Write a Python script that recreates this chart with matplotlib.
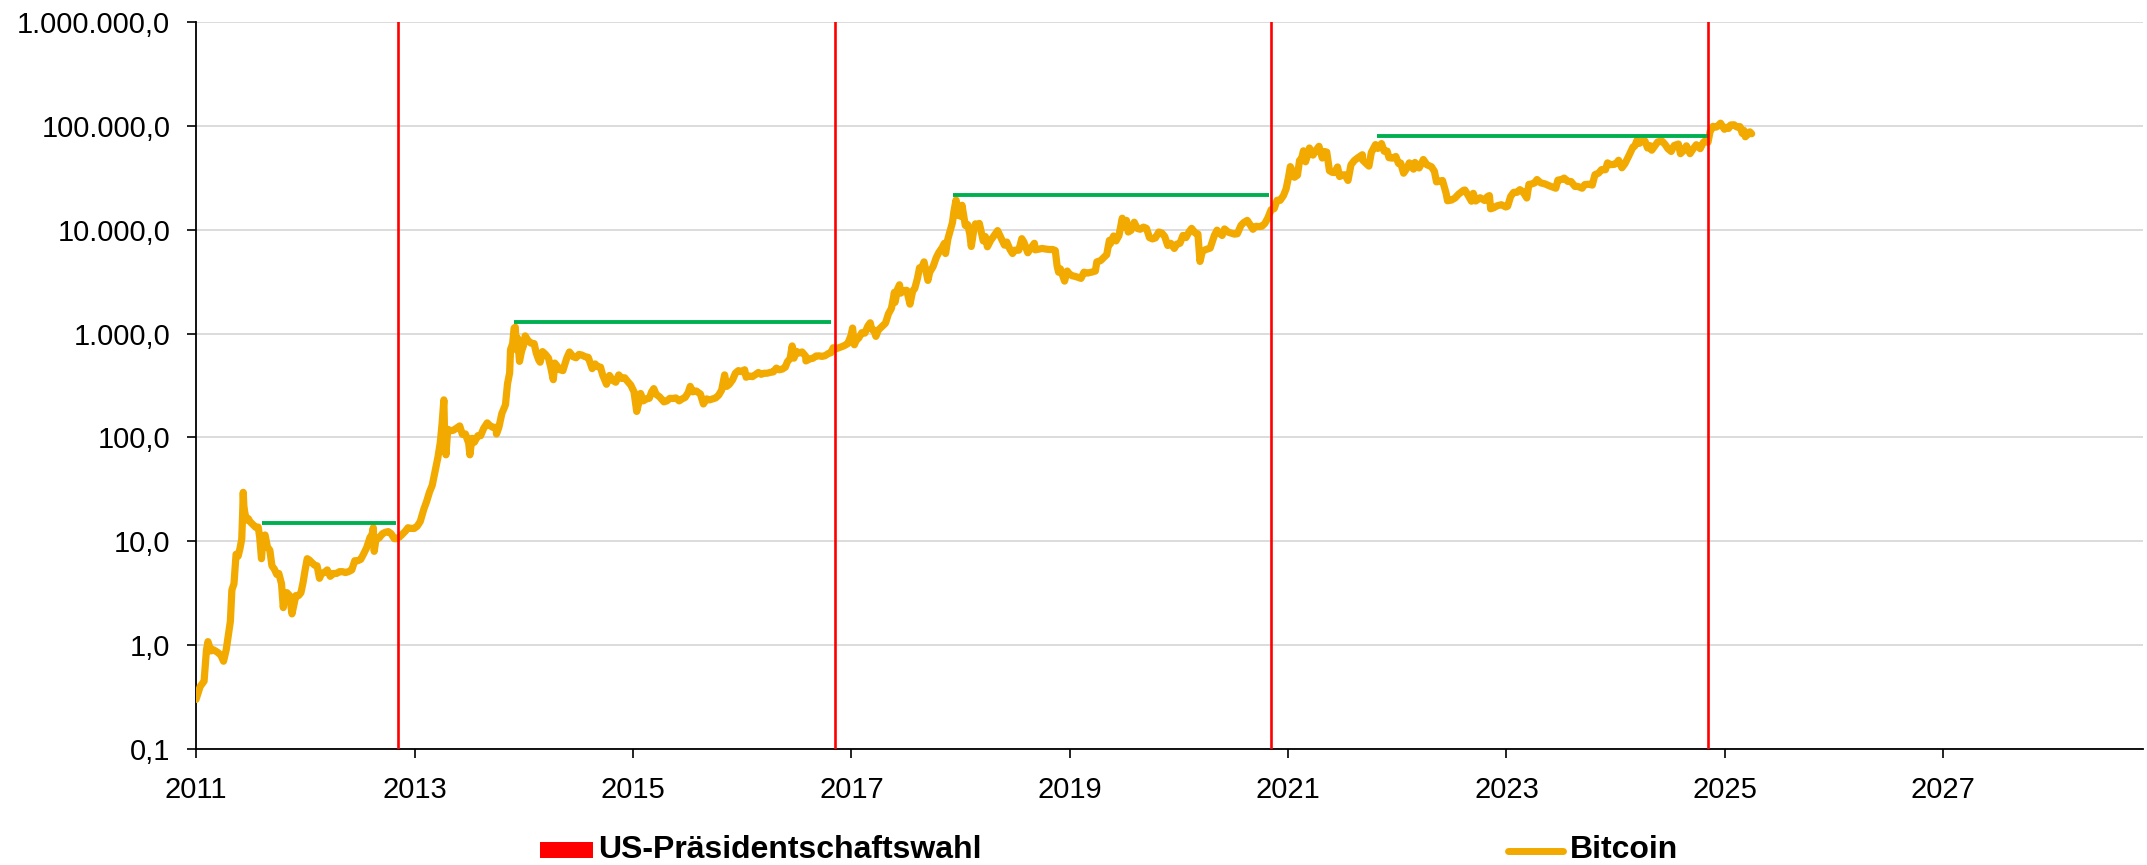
import matplotlib
matplotlib.use("Agg")
import matplotlib.pyplot as plt
import pandas as pd
from matplotlib.ticker import FuncFormatter, FixedLocator, NullLocator
from matplotlib.patches import Rectangle
from matplotlib.lines import Line2D

plt.rcParams["font.family"] = ["Liberation Sans", "DejaVu Sans"]

# Bitcoin in USD, (Monat-Tag, Kurs) je Jahr
btc_2011 = [("01-01", 0.30), ("01-15", 0.40), ("01-28", 0.45), ("02-05", 0.90), ("02-10", 1.08), ("02-20", 0.88),
            ("03-01", 0.90), ("03-15", 0.85), ("03-25", 0.80), ("04-03", 0.70), ("04-12", 0.90), ("04-20", 1.30),
            ("04-26", 1.70), ("05-01", 3.4), ("05-08", 3.9), ("05-15", 7.5), ("05-22", 7.2), ("05-28", 8.5),
            ("06-03", 10.5), ("06-06", 18.5), ("06-08", 29.6), ("06-10", 22.0), ("06-13", 19.0), ("06-19", 16.0),
            ("06-25", 16.5), ("07-01", 15.4), ("07-10", 14.5), ("07-20", 13.6), ("07-28", 13.7), ("08-02", 11.0),
            ("08-08", 6.8), ("08-12", 10.0), ("08-20", 11.5), ("08-28", 8.8), ("09-05", 8.2), ("09-12", 5.8),
            ("09-20", 5.4), ("09-28", 4.8), ("10-05", 4.9), ("10-14", 3.9), ("10-20", 2.3), ("10-25", 3.2),
            ("11-01", 3.2), ("11-10", 3.0), ("11-18", 2.0), ("11-25", 2.5), ("12-01", 3.0), ("12-10", 3.0),
            ("12-18", 3.2), ("12-25", 4.0)]
btc_2012 = [("01-01", 5.3), ("01-08", 6.8), ("01-15", 6.6), ("01-22", 6.3), ("02-01", 5.9), ("02-10", 5.8),
            ("02-18", 4.4), ("02-25", 4.9), ("03-05", 5.0), ("03-15", 5.3), ("03-25", 4.6), ("04-05", 4.9),
            ("04-15", 4.9), ("04-25", 5.1), ("05-05", 5.1), ("05-15", 5.0), ("05-25", 5.1), ("06-05", 5.3),
            ("06-15", 6.5), ("06-25", 6.5), ("07-05", 6.7), ("07-15", 7.6), ("07-25", 8.7), ("08-05", 10.9),
            ("08-12", 11.6), ("08-16", 13.5), ("08-19", 8.0), ("08-25", 10.5), ("09-05", 10.8), ("09-15", 11.8),
            ("09-25", 12.2), ("10-05", 12.4), ("10-15", 11.8), ("10-25", 10.6), ("11-01", 10.6), ("11-10", 10.9),
            ("11-20", 11.6), ("12-01", 12.5), ("12-10", 13.5), ("12-20", 13.3), ("12-31", 13.3)]
btc_2013 = [("01-10", 14.0), ("01-20", 15.5), ("02-01", 20.4), ("02-10", 24.0), ("02-20", 29.8), ("03-01", 34.5),
            ("03-10", 46.0), ("03-20", 64.0), ("03-28", 89.0), ("04-03", 135), ("04-09", 230), ("04-12", 90),
            ("04-16", 68), ("04-22", 120), ("05-01", 116), ("05-10", 117), ("05-20", 122), ("06-01", 129),
            ("06-10", 107), ("06-20", 108), ("07-01", 88), ("07-05", 68), ("07-12", 98), ("07-20", 90),
            ("08-01", 104), ("08-10", 104), ("08-20", 122), ("09-01", 138), ("09-10", 130), ("09-20", 125),
            ("10-01", 125), ("10-02", 108), ("10-10", 125), ("10-20", 170), ("11-01", 206), ("11-08", 330),
            ("11-15", 418), ("11-18", 700), ("11-25", 800), ("11-30", 1130), ("12-04", 1150), ("12-07", 700),
            ("12-12", 900), ("12-18", 540), ("12-25", 680), ("12-31", 760)]
btc_2014 = [("01-06", 950), ("01-15", 860), ("01-25", 810), ("02-05", 800), ("02-12", 650), ("02-20", 560),
            ("02-25", 530), ("03-05", 670), ("03-15", 630), ("03-25", 580), ("04-01", 480), ("04-10", 360),
            ("04-15", 520), ("04-22", 490), ("05-01", 450), ("05-12", 440), ("05-25", 580), ("06-03", 665),
            ("06-15", 600), ("06-25", 585), ("07-05", 630), ("07-15", 620), ("07-25", 600), ("08-05", 590),
            ("08-18", 460), ("08-28", 510), ("09-05", 480), ("09-15", 475), ("09-22", 400), ("10-05", 325),
            ("10-15", 395), ("10-25", 355), ("11-05", 340), ("11-15", 400), ("11-25", 370), ("12-05", 375),
            ("12-15", 345), ("12-25", 320)]
btc_2015 = [("01-05", 275), ("01-14", 178), ("01-20", 210), ("01-27", 265), ("02-05", 225), ("02-15", 235),
            ("02-25", 238), ("03-05", 275), ("03-12", 295), ("03-20", 260), ("04-01", 245), ("04-15", 220),
            ("04-25", 225), ("05-05", 238), ("05-15", 237), ("05-25", 240), ("06-05", 225), ("06-15", 235),
            ("06-25", 243), ("07-05", 270), ("07-12", 310), ("07-20", 275), ("08-01", 280), ("08-15", 262),
            ("08-25", 210), ("09-05", 235), ("09-15", 230), ("09-25", 235), ("10-05", 240), ("10-15", 255),
            ("10-25", 285), ("11-04", 400), ("11-11", 310), ("11-20", 325), ("12-01", 360), ("12-10", 415),
            ("12-20", 440), ("12-31", 430)]
btc_2016 = [("01-10", 448), ("01-15", 380), ("01-25", 390), ("02-05", 385), ("02-15", 402), ("02-25", 422),
            ("03-05", 405), ("03-15", 415), ("03-25", 415), ("04-05", 423), ("04-15", 428), ("04-25", 465),
            ("05-05", 448), ("05-15", 455), ("05-25", 475), ("06-01", 535), ("06-10", 575), ("06-17", 760),
            ("06-23", 580), ("07-01", 675), ("07-10", 650), ("07-20", 665), ("08-01", 606), ("08-02", 545),
            ("08-15", 570), ("08-25", 578), ("09-05", 608), ("09-15", 610), ("09-25", 603), ("10-05", 612),
            ("10-15", 640), ("10-25", 655), ("11-01", 730), ("11-10", 712), ("11-20", 730), ("12-01", 750),
            ("12-10", 770), ("12-20", 800), ("12-31", 963)]
btc_2017 = [("01-05", 1130), ("01-11", 780), ("01-18", 870), ("01-25", 900), ("02-05", 1020), ("02-15", 1010),
            ("02-25", 1180), ("03-05", 1270), ("03-10", 1100), ("03-17", 1080), ("03-24", 940), ("04-01", 1080),
            ("04-15", 1180), ("04-25", 1260), ("05-05", 1550), ("05-15", 1750), ("05-25", 2500), ("05-27", 2000),
            ("06-05", 2700), ("06-11", 2950), ("06-15", 2450), ("06-25", 2590), ("07-05", 2610), ("07-16", 1920),
            ("07-25", 2570), ("08-01", 2720), ("08-10", 3400), ("08-17", 4300), ("08-25", 4350), ("09-01", 4900),
            ("09-14", 3250), ("09-20", 3900), ("10-01", 4400), ("10-12", 5400), ("10-20", 6000), ("11-01", 6750),
            ("11-08", 7400), ("11-12", 5900), ("11-20", 8200), ("11-28", 9900), ("12-05", 11700), ("12-10", 15000),
            ("12-17", 19300), ("12-22", 13800), ("12-28", 14500)]
btc_2018 = [("01-01", 13500), ("01-06", 17200), ("01-12", 13500), ("01-17", 11000), ("01-25", 11200),
            ("02-01", 9100), ("02-06", 6900), ("02-15", 10200), ("02-20", 11400), ("03-01", 10900),
            ("03-05", 11500), ("03-18", 7800), ("03-25", 8600), ("04-01", 6850), ("04-12", 7900), ("04-25", 8900),
            ("05-05", 9800), ("05-15", 8500), ("05-28", 7100), ("06-05", 7600), ("06-15", 6500), ("06-24", 5900),
            ("07-01", 6350), ("07-15", 6350), ("07-25", 8200), ("08-01", 7600), ("08-14", 6000), ("08-25", 6700),
            ("09-05", 7400), ("09-08", 6400), ("09-20", 6500), ("10-01", 6600), ("10-15", 6500), ("10-25", 6450),
            ("11-05", 6450), ("11-14", 6300), ("11-20", 4500), ("11-25", 3900), ("12-01", 4200), ("12-15", 3200),
            ("12-24", 4000), ("12-31", 3750)]
btc_2019 = [("01-10", 3600), ("01-20", 3550), ("02-01", 3450), ("02-08", 3400), ("02-18", 3900), ("03-01", 3820),
            ("03-15", 3900), ("03-28", 4000), ("04-02", 4900), ("04-15", 5050), ("04-25", 5400), ("05-05", 5750),
            ("05-14", 7900), ("05-17", 7300), ("05-28", 8700), ("06-05", 7800), ("06-15", 8800), ("06-26", 12900),
            ("07-02", 10600), ("07-10", 12300), ("07-16", 9500), ("07-25", 9850), ("08-05", 11800), ("08-15", 10300),
            ("08-25", 10100), ("09-05", 10600), ("09-15", 10300), ("09-25", 8400), ("10-05", 8150), ("10-15", 8350),
            ("10-26", 9500), ("11-05", 9300), ("11-15", 8600), ("11-25", 7050), ("12-05", 7400), ("12-17", 6600),
            ("12-25", 7250)]
btc_2020 = [("01-05", 7400), ("01-15", 8800), ("01-25", 8400), ("02-05", 9600), ("02-13", 10300), ("02-25", 9300),
            ("03-05", 9100), ("03-12", 4950), ("03-20", 6200), ("04-01", 6450), ("04-15", 6650), ("04-29", 8800),
            ("05-08", 9900), ("05-15", 9300), ("05-25", 8800), ("06-02", 10170), ("06-15", 9450), ("06-25", 9250),
            ("07-05", 9070), ("07-15", 9150), ("07-27", 11000), ("08-05", 11700), ("08-17", 12300), ("08-25", 11350),
            ("09-05", 10100), ("09-15", 10790), ("09-25", 10730), ("10-05", 10800), ("10-15", 11500), ("10-25", 13000),
            ("11-05", 15600), ("11-15", 15950), ("11-25", 19200), ("12-05", 19150), ("12-16", 21300), ("12-25", 24700)]
btc_2021 = [("01-02", 32000), ("01-08", 40500), ("01-15", 36700), ("01-22", 32000), ("02-01", 33500),
            ("02-08", 46400), ("02-15", 48700), ("02-21", 57500), ("02-28", 45100), ("03-10", 55900),
            ("03-13", 61200), ("03-25", 52300), ("04-05", 58700), ("04-14", 63500), ("04-25", 49000),
            ("05-03", 56600), ("05-10", 55800), ("05-19", 37000), ("05-28", 35700), ("06-05", 35500),
            ("06-15", 40200), ("06-22", 32500), ("07-01", 33600), ("07-10", 33800), ("07-20", 29800),
            ("07-30", 42200), ("08-10", 46300), ("08-22", 49300), ("09-06", 52700), ("09-07", 46800),
            ("09-20", 43000), ("09-28", 41000), ("10-06", 55300), ("10-20", 66000), ("10-28", 60600),
            ("11-09", 67500), ("11-18", 56900), ("11-28", 57200), ("12-04", 49400), ("12-15", 48900), ("12-27", 50700)]
btc_2022 = [("01-05", 43400), ("01-12", 43900), ("01-22", 35000), ("02-01", 38700), ("02-10", 44000),
            ("02-24", 38300), ("03-01", 44400), ("03-15", 39300), ("03-29", 47400), ("04-10", 42200),
            ("04-25", 40400), ("05-05", 36500), ("05-12", 28900), ("05-20", 29200), ("06-01", 29800),
            ("06-13", 22500), ("06-18", 19000), ("07-01", 19300), ("07-13", 20200), ("07-25", 22000),
            ("08-10", 23900), ("08-15", 24100), ("08-25", 21600), ("09-06", 18800), ("09-12", 22400),
            ("09-20", 18900), ("10-05", 20300), ("10-20", 19100), ("10-29", 20800), ("11-05", 21300),
            ("11-09", 15900), ("11-20", 16300), ("12-01", 17000), ("12-15", 17400), ("12-30", 16550)]
btc_2023 = [("01-05", 16850), ("01-15", 20900), ("01-25", 22900), ("02-05", 22900), ("02-15", 24300),
            ("02-25", 23200), ("03-10", 20200), ("03-17", 27300), ("03-25", 27500), ("04-05", 28200),
            ("04-13", 30400), ("04-25", 28300), ("05-10", 27600), ("05-25", 26400), ("06-05", 25700),
            ("06-15", 25100), ("06-22", 30000), ("07-05", 30500), ("07-13", 31400), ("07-25", 29200),
            ("08-05", 29100), ("08-18", 26100), ("08-28", 26100), ("09-11", 25100), ("09-20", 27200),
            ("10-05", 27400), ("10-15", 26900), ("10-24", 33900), ("11-05", 35000), ("11-15", 37900),
            ("11-28", 37800), ("12-05", 44000), ("12-15", 42300), ("12-28", 42600)]
btc_2024 = [("01-05", 44200), ("01-11", 46600), ("01-22", 39500), ("02-01", 43100), ("02-15", 52000),
            ("02-28", 62500), ("03-05", 63800), ("03-13", 73100), ("03-20", 67800), ("03-28", 70700),
            ("04-08", 71600), ("04-17", 61200), ("04-25", 64500), ("05-01", 58300), ("05-15", 66200),
            ("05-21", 70100), ("06-05", 71100), ("06-15", 66000), ("06-24", 60300), ("07-05", 56700),
            ("07-15", 64700), ("07-29", 66800), ("08-05", 54000), ("08-15", 57600), ("08-25", 64200),
            ("09-06", 54000), ("09-15", 59200), ("09-27", 65800), ("10-10", 60300), ("10-20", 69000),
            ("10-29", 72700), ("11-05", 69400), ("11-12", 88000), ("11-22", 98900), ("12-01", 97200),
            ("12-05", 98000), ("12-17", 106100), ("12-30", 92700)]
btc_2025 = [("01-07", 96900), ("01-13", 94500), ("01-20", 102000), ("01-31", 102400), ("02-10", 97400),
            ("02-20", 98300), ("02-28", 84400), ("03-05", 90600), ("03-10", 78500), ("03-18", 82700),
            ("03-25", 87500), ("03-31", 84000)]

btc_years = {2011: btc_2011, 2012: btc_2012, 2013: btc_2013, 2014: btc_2014, 2015: btc_2015,
             2016: btc_2016, 2017: btc_2017, 2018: btc_2018, 2019: btc_2019, 2020: btc_2020,
             2021: btc_2021, 2022: btc_2022, 2023: btc_2023, 2024: btc_2024, 2025: btc_2025}

# US-Praesidentschaftswahlen
wahl_dates = ["2012-11-06", "2016-11-08", "2020-11-03", "2024-11-05"]

# Allzeithochs bis zur naechsten Wahl (gruene Linien)
ath_start = ["2011-08-10", "2013-11-29", "2017-12-06", "2021-10-25"]
ath_end = ["2012-11-01", "2016-10-26", "2020-10-30", "2024-11-05"]
ath_level = [15, 1300, 21400, 79000]

year_ticks = [2011, 2013, 2015, 2017, 2019, 2021, 2023, 2025, 2027]

dates = []
prices = []
for y, rows in btc_years.items():
    for md, p in rows:
        dates.append(pd.Timestamp(f"{y}-{md}"))
        prices.append(p)

W, H = 2147, 865
fig = plt.figure(figsize=(W / 100, H / 100), dpi=100)
ax = fig.add_axes([196 / W, 1 - 749 / H, (2143 - 196) / W, (749 - 22) / H])

ax.plot(dates, prices, color="#F2A900", lw=5.2, solid_joinstyle="round", solid_capstyle="round", zorder=3)
for s, e, lvl in zip(ath_start, ath_end, ath_level):
    ax.hlines(lvl, pd.Timestamp(s), pd.Timestamp(e), color="#00B050", lw=2.8, zorder=4)
for d in wahl_dates:
    ax.axvline(pd.Timestamp(d), color="#FF0000", lw=1.9, zorder=5)

ax.set_yscale("log")
ax.set_ylim(0.1, 1e6)
ax.set_xlim(pd.Timestamp("2011-01-01"), pd.Timestamp("2028-10-30"))

ax.yaxis.set_major_locator(FixedLocator([10.0 ** k for k in range(-1, 7)]))
ax.yaxis.set_minor_locator(NullLocator())
ax.yaxis.set_major_formatter(FuncFormatter(
    lambda v, pos: f"{v:,.1f}".replace(",", "X").replace(".", ",").replace("X", ".")))

xt = [pd.Timestamp(f"{y}-01-01") for y in year_ticks]
ax.set_xticks(xt)
ax.set_xticklabels([str(y) for y in year_ticks])
ax.xaxis.set_minor_locator(NullLocator())

ax.yaxis.grid(True, color="#D9D9D9", lw=1.3, zorder=0)
ax.set_axisbelow(True)
for side in ["top", "right"]:
    ax.spines[side].set_visible(False)
for side in ["left", "bottom"]:
    ax.spines[side].set_linewidth(1.3)
    ax.spines[side].set_color("black")
ax.tick_params(axis="both", direction="out", length=6.5, width=1.2, labelsize=21, colors="black")
ax.tick_params(axis="y", pad=12)
ax.tick_params(axis="x", pad=13)

# Legende unten
fig.add_artist(Rectangle((540 / W, 1 - 858 / H), 53 / W, 16 / H, transform=fig.transFigure,
                         facecolor="#FF0000", edgecolor="none"))
fig.text(598 / W, 1 - 858 / H, "US-Präsidentschaftswahl", fontsize=23, fontweight="bold", va="baseline")
fig.add_artist(Line2D([1508 / W, 1563 / W], [1 - 851 / H, 1 - 851 / H], transform=fig.transFigure,
                      color="#F2A900", lw=5, solid_capstyle="round"))
fig.text(1570 / W, 1 - 858 / H, "Bitcoin", fontsize=23, fontweight="bold", va="baseline")

fig.savefig("out.png", dpi=100)
